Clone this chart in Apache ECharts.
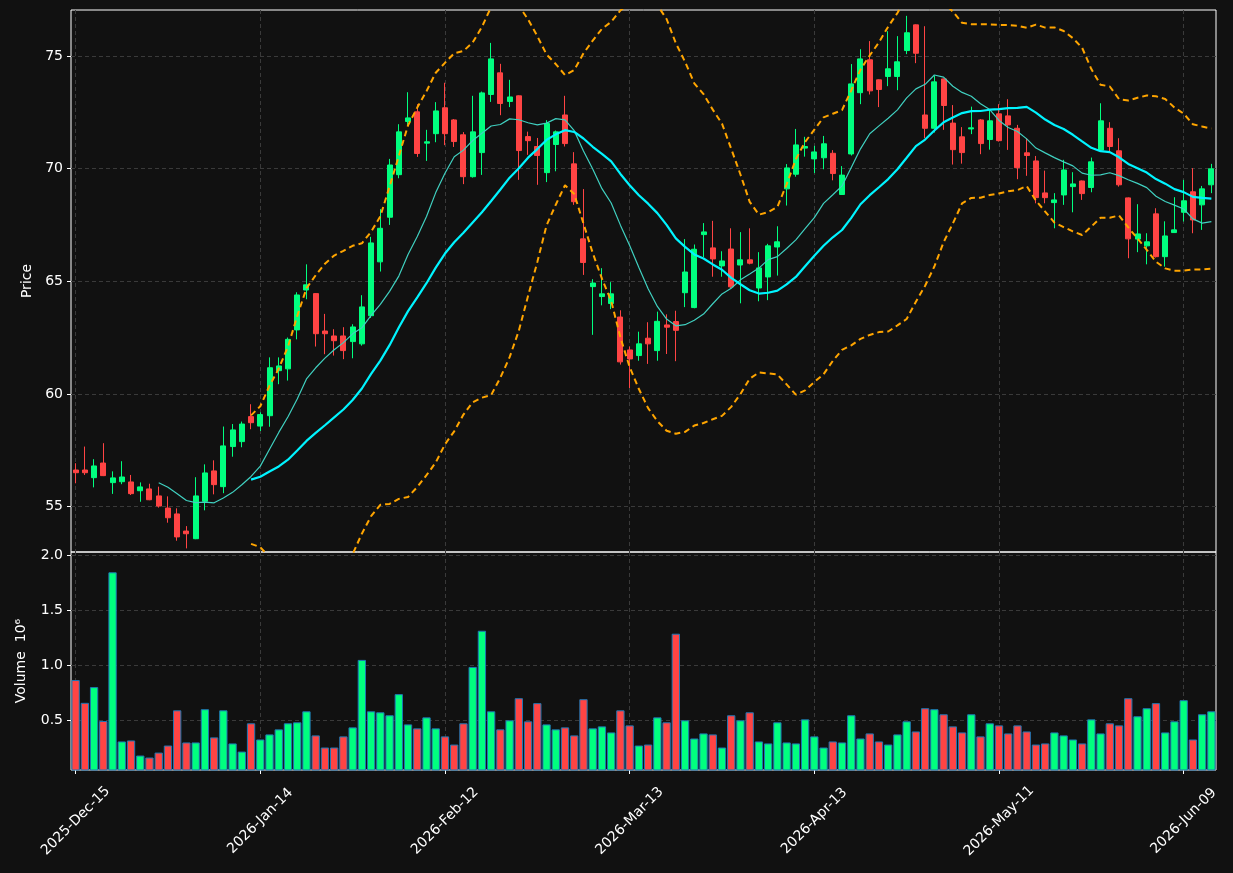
<!DOCTYPE html>
<html>
<head>
<meta charset="utf-8">
<script src="https://cdn.jsdelivr.net/npm/echarts@6/dist/echarts.min.js"></script>
<style>
  html, body { margin: 0; padding: 0; background: #111111; }
  #chart { width: 1233px; height: 873px; }
</style>
</head>
<body>
<div id="chart"></div>
<script>
// trading calendar (NYSE days from the first bar)
const startDate = '2025-12-15';
const holidays = ['2025-12-25', '2026-01-01', '2026-01-19', '2026-02-16', '2026-04-03', '2026-05-25'];
const nBars = 124;
const monthNames = ['Jan', 'Feb', 'Mar', 'Apr', 'May', 'Jun', 'Jul', 'Aug', 'Sep', 'Oct', 'Nov', 'Dec'];

const opens = [56.62, 56.62, 56.28, 56.93, 56.06, 56.10, 56.09, 55.70, 55.78, 55.47,
  54.93, 54.67, 53.91, 53.57, 55.23, 56.58, 55.88, 57.66, 57.88, 58.99,
  58.57, 59.03, 61.03, 61.11, 62.84, 64.61, 64.45, 62.79, 62.57, 62.57,
  62.32, 62.22, 63.47, 65.86, 67.84, 69.73, 72.09, 72.52, 71.13, 71.55,
  72.70, 72.16, 71.50, 69.64, 70.71, 73.29, 74.25, 72.98, 73.23, 71.42,
  70.98, 69.82, 71.07, 72.38, 70.21, 66.88, 64.76, 64.32, 64.01, 63.41,
  61.95, 61.70, 62.47, 61.92, 63.06, 63.21, 64.49, 63.83, 67.07, 66.48,
  65.68, 66.43, 65.72, 65.95, 64.70, 65.19, 66.52, 69.10, 69.75, 70.91,
  70.43, 70.48, 70.68, 68.85, 70.65, 73.37, 74.83, 73.94, 74.09, 74.09,
  75.24, 76.38, 72.38, 71.79, 73.98, 72.02, 71.41, 71.76, 72.16, 71.29,
  72.43, 72.34, 71.79, 70.70, 70.34, 68.92, 68.49, 68.83, 69.20, 69.45,
  69.16, 70.82, 71.79, 70.79, 68.70, 66.87, 66.57, 67.99, 66.09, 67.16,
  68.06, 68.97, 68.39, 69.28];
const highs = [56.92, 57.66, 57.10, 57.81, 56.56, 57.01, 56.40, 56.07, 56.01, 55.88,
  55.45, 54.92, 54.13, 56.30, 56.87, 57.05, 58.55, 58.66, 58.77, 59.54,
  59.18, 61.62, 61.62, 62.50, 64.51, 65.75, 64.47, 63.55, 62.87, 62.96,
  63.09, 64.38, 66.97, 68.20, 70.43, 71.97, 73.39, 72.86, 71.72, 72.95,
  73.81, 72.20, 71.62, 73.23, 73.42, 75.58, 74.65, 73.94, 73.25, 71.64,
  71.36, 72.15, 71.69, 73.23, 70.73, 69.09, 65.09, 65.58, 64.96, 63.71,
  62.10, 62.76, 63.18, 63.65, 63.53, 63.69, 66.87, 66.63, 67.58, 67.68,
  66.33, 67.35, 67.18, 67.35, 66.29, 66.66, 67.44, 70.20, 71.76, 71.41,
  71.01, 71.45, 70.82, 70.11, 74.64, 75.30, 75.66, 73.96, 76.10, 75.88,
  76.78, 76.40, 76.32, 74.12, 74.00, 72.82, 71.84, 72.75, 72.20, 72.61,
  72.86, 73.08, 71.94, 71.35, 70.56, 69.91, 68.91, 70.39, 69.84, 69.47,
  70.49, 72.90, 72.06, 71.35, 68.72, 68.42, 67.13, 68.24, 67.66, 68.73,
  69.50, 70.02, 69.23, 70.21];
const lows = [56.03, 56.40, 55.85, 56.35, 55.56, 55.99, 55.51, 55.21, 55.28, 54.95,
  54.28, 53.48, 53.14, 53.55, 54.83, 55.54, 55.59, 57.21, 57.63, 58.43,
  58.35, 58.54, 60.43, 60.59, 62.42, 64.20, 62.10, 61.76, 61.70, 61.54,
  61.58, 62.14, 63.37, 65.43, 67.50, 69.57, 71.94, 70.52, 70.34, 71.17,
  71.04, 70.96, 69.31, 69.60, 69.72, 72.96, 72.37, 72.73, 69.50, 70.61,
  69.28, 69.40, 69.88, 70.98, 68.39, 65.28, 62.62, 63.93, 63.76, 61.30,
  60.26, 61.47, 61.33, 61.47, 61.77, 61.45, 63.85, 63.80, 66.07, 65.20,
  65.20, 64.70, 64.02, 65.75, 64.11, 64.16, 65.25, 68.36, 69.64, 70.53,
  69.80, 69.97, 69.48, 68.83, 70.58, 72.86, 73.29, 72.73, 73.66, 73.48,
  75.08, 74.68, 71.35, 71.60, 71.72, 70.18, 70.22, 71.53, 70.64, 70.84,
  71.20, 70.83, 69.53, 69.68, 68.46, 68.46, 67.35, 68.39, 68.06, 68.61,
  68.95, 70.80, 70.71, 69.20, 66.02, 66.29, 65.75, 66.05, 65.65, 67.14,
  67.65, 67.13, 67.28, 68.91];
const closes = [56.50, 56.50, 56.80, 56.37, 56.27, 56.31, 55.57, 55.87, 55.30, 55.02,
  54.50, 53.65, 53.79, 55.47, 56.49, 55.97, 57.69, 58.40, 58.66, 58.72,
  59.08, 61.16, 61.24, 62.42, 64.39, 64.84, 62.67, 62.67, 62.36, 61.92,
  62.97, 63.86, 66.70, 67.35, 70.16, 71.63, 72.25, 70.67, 71.19, 72.56,
  71.55, 71.20, 69.64, 71.63, 73.36, 74.87, 72.89, 73.18, 70.80, 71.24,
  70.58, 72.00, 71.63, 71.11, 68.53, 65.83, 64.92, 64.44, 64.44, 61.42,
  61.55, 62.22, 62.22, 63.22, 62.96, 62.82, 65.41, 66.42, 67.19, 65.99,
  65.90, 64.75, 65.95, 65.80, 65.59, 66.57, 66.75, 70.03, 71.05, 70.98,
  70.74, 71.10, 69.78, 69.71, 73.76, 74.87, 73.45, 73.51, 74.43, 74.74,
  76.03, 75.12, 71.79, 73.85, 72.80, 70.84, 70.71, 71.81, 71.11, 72.12,
  71.24, 71.94, 70.04, 70.58, 68.71, 68.71, 68.61, 69.94, 69.32, 68.89,
  70.30, 72.12, 70.98, 69.28, 66.88, 67.10, 66.75, 66.09, 67.01, 67.28,
  68.57, 67.72, 69.10, 69.99];
// volume in millions of shares
const volumes = [0.866, 0.659, 0.802, 0.494, 1.845, 0.308, 0.317, 0.180, 0.162, 0.207,
  0.271, 0.591, 0.299, 0.299, 0.601, 0.345, 0.591, 0.290, 0.216, 0.473,
  0.326, 0.372, 0.418, 0.473, 0.482, 0.582, 0.363, 0.253, 0.253, 0.354,
  0.436, 1.049, 0.582, 0.573, 0.546, 0.738, 0.463, 0.427, 0.527, 0.427,
  0.354, 0.280, 0.473, 0.985, 1.314, 0.582, 0.418, 0.500, 0.701, 0.491,
  0.656, 0.463, 0.418, 0.436, 0.363, 0.692, 0.427, 0.445, 0.390, 0.591,
  0.454, 0.271, 0.280, 0.527, 0.482, 1.287, 0.500, 0.335, 0.381, 0.372,
  0.253, 0.546, 0.500, 0.573, 0.308, 0.290, 0.482, 0.299, 0.290, 0.509,
  0.354, 0.253, 0.308, 0.299, 0.546, 0.335, 0.381, 0.308, 0.280, 0.372,
  0.491, 0.399, 0.610, 0.601, 0.555, 0.445, 0.390, 0.555, 0.354, 0.473,
  0.454, 0.381, 0.454, 0.399, 0.280, 0.290, 0.390, 0.363, 0.326, 0.290,
  0.509, 0.381, 0.473, 0.454, 0.701, 0.537, 0.610, 0.656, 0.390, 0.491,
  0.683, 0.326, 0.555, 0.582];

const priceTicks = [55, 60, 65, 70, 75];
const volumeTicks = [0.5, 1.0, 1.5, 2.0];
const labelEvery = 20;
const maShort = 10;
const maLong = 20;
const bandWidth = 2;

function tradingDays(start, count) {
  const out = [];
  const d = new Date(start + 'T00:00:00Z');
  while (out.length < count) {
    const iso = d.toISOString().slice(0, 10);
    const wd = d.getUTCDay();
    if (wd !== 0 && wd !== 6 && holidays.indexOf(iso) < 0) {
      out.push(d.getUTCFullYear() + '-' + monthNames[d.getUTCMonth()] + '-' +
        String(d.getUTCDate()).padStart(2, '0'));
    }
    d.setUTCDate(d.getUTCDate() + 1);
  }
  return out;
}

function rolling(values, n, fn) {
  return values.map((v, i) => (i < n - 1 ? null : fn(values.slice(i - n + 1, i + 1))));
}
const mean = a => a.reduce((s, v) => s + v, 0) / a.length;
const std = a => {
  const m = mean(a);
  return Math.sqrt(a.reduce((s, v) => s + (v - m) * (v - m), 0) / (a.length - 1));
};

const dates = tradingDays(startDate, nBars);
const candles = opens.map((o, i) => [o, closes[i], lows[i], highs[i]]);
const ma10 = rolling(closes, maShort, mean);
const ma20 = rolling(closes, maLong, mean);
const sd20 = rolling(closes, maLong, std);
const upper = ma20.map((m, i) => (m === null ? null : m + bandWidth * sd20[i]));
const lower = ma20.map((m, i) => (m === null ? null : m - bandWidth * sd20[i]));

const upColor = '#00ff7f';
const downColor = '#ff4444';
const volData = volumes.map((v, i) => ({
  value: v,
  itemStyle: { color: closes[i] >= opens[i] ? upColor : downColor }
}));

const chart = echarts.init(document.getElementById('chart'));
const font = 'DejaVu Sans';
const gridLine = { show: true, lineStyle: { color: '#3a3a3a', type: [4, 3], width: 1 } };
const whiteTick = { color: '#ffffff', width: 1 };

const option = {
  backgroundColor: '#111111',
  animation: false,
  textStyle: { fontFamily: font },
  grid: [
    { left: 71, right: 17, top: 10, height: 542, show: true, borderColor: '#ffffff', borderWidth: 1 },
    { left: 71, right: 17, top: 552, height: 218, show: true, borderColor: '#ffffff', borderWidth: 1 }
  ],
  xAxis: [
    {
      type: 'category', gridIndex: 0, data: dates, boundaryGap: true,
      axisLine: { show: false }, axisTick: { show: false }, axisLabel: { show: false },
      splitLine: Object.assign({ interval: labelEvery - 1, alignWithLabel: true }, gridLine)
    },
    {
      type: 'category', gridIndex: 1, data: dates, boundaryGap: true,
      axisLine: { show: false },
      axisTick: { show: true, interval: labelEvery - 1, alignWithLabel: true, length: 4, lineStyle: whiteTick },
      axisLabel: {
        interval: labelEvery - 1, rotate: 45, align: 'center', verticalAlign: 'middle',
        margin: 51, color: '#ffffff', fontSize: 14, fontFamily: font
      },
      splitLine: Object.assign({ interval: labelEvery - 1, alignWithLabel: true }, gridLine)
    }
  ],
  yAxis: [
    {
      type: 'value', gridIndex: 0, min: 52.98, max: 77.04,
      name: 'Price', nameLocation: 'middle', nameRotate: 90, nameGap: 36,
      nameTextStyle: { color: '#ffffff', fontSize: 14, fontFamily: font },
      axisLine: { show: false },
      axisTick: { show: true, customValues: priceTicks, length: 4, lineStyle: whiteTick },
      axisLabel: { customValues: priceTicks, color: '#ffffff', fontSize: 14, margin: 8, fontFamily: font },
      splitLine: gridLine
    },
    {
      type: 'value', gridIndex: 1,
      min: 0.3 * Math.min(...volumes), max: 1.1 * Math.max(...volumes),
      name: 'Volume  10\u2076', nameLocation: 'middle', nameRotate: 90, nameGap: 43,
      nameTextStyle: { color: '#ffffff', fontSize: 14, fontFamily: font },
      axisLine: { show: false },
      axisTick: { show: true, customValues: volumeTicks, length: 4, lineStyle: whiteTick },
      axisLabel: {
        customValues: volumeTicks, color: '#ffffff', fontSize: 14, margin: 8, fontFamily: font,
        formatter: v => v.toFixed(1)
      },
      splitLine: gridLine
    }
  ],
  series: [
    {
      type: 'candlestick', xAxisIndex: 0, yAxisIndex: 0, data: candles, barWidth: 5.5,
      itemStyle: { color: upColor, color0: downColor, borderColor: upColor, borderColor0: downColor, borderWidth: 1 }
    },
    {
      type: 'line', xAxisIndex: 0, yAxisIndex: 0, data: ma10, showSymbol: false,
      lineStyle: { color: '#40d0c0', width: 1.2 }
    },
    {
      type: 'line', xAxisIndex: 0, yAxisIndex: 0, data: ma20, showSymbol: false,
      lineStyle: { color: '#00f4ff', width: 2.2 }
    },
    {
      type: 'line', xAxisIndex: 0, yAxisIndex: 0, data: upper, showSymbol: false,
      lineStyle: { color: '#ffa500', width: 2, type: [6, 4] }
    },
    {
      type: 'line', xAxisIndex: 0, yAxisIndex: 0, data: lower, showSymbol: false,
      lineStyle: { color: '#ffa500', width: 2, type: [6, 4] }
    },
    {
      type: 'bar', xAxisIndex: 1, yAxisIndex: 1, data: volData, barWidth: '90%',
      itemStyle: { borderColor: '#1f77b4', borderWidth: 1 }
    }
  ]
};

chart.setOption(option);
</script>
</body>
</html>
